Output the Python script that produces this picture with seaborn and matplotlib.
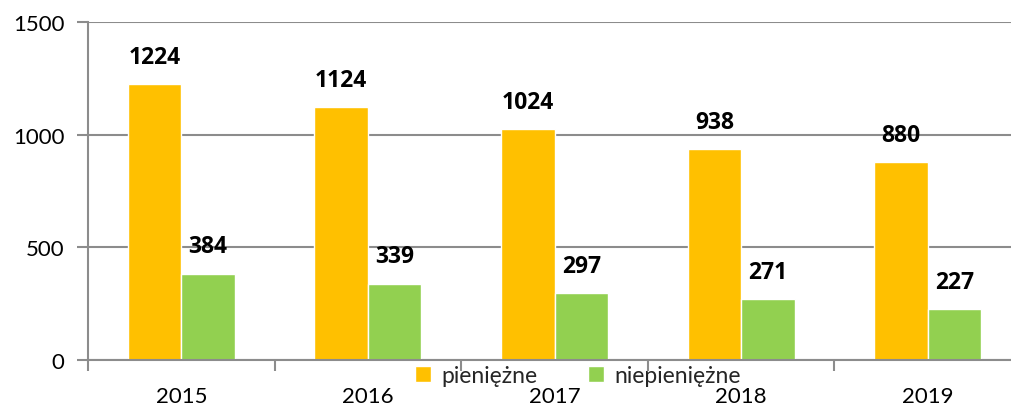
import numpy as np
import pandas as pd
import seaborn as sns
import matplotlib.pyplot as plt
from matplotlib.ticker import FixedLocator

years = ["2015", "2016", "2017", "2018", "2019"]
pieniezne = [1224, 1124, 1024, 938, 880]
niepieniezne = [384, 339, 297, 271, 227]
series = ["pieniężne", "niepieniężne"]
colors = ["#FFC000", "#92D050"]

df = pd.DataFrame({
	"rok": years * 2,
	"wartosc": pieniezne + niepieniezne,
	"typ": [series[0]] * len(years) + [series[1]] * len(years),
})

sns.set_theme(style="white")
plt.rcParams['font.family'] = ['Lato', 'DejaVu Sans']

fig = plt.figure(figsize=(10.11, 4.06), dpi=100)
ax = fig.add_axes([88 / 1011, 1 - 361 / 406, 1 - 88 / 1011, (361 - 23.3) / 406])

sns.barplot(data=df, x="rok", y="wartosc", hue="typ", palette=colors,
	width=0.574, saturation=1, ax=ax, legend=True)

ax.set_ylim(0, 1500)
ax.set_xlim(-0.5, 4.5 - 10 / 186.6)
ax.set_yticks([0, 500, 1000, 1500])
ax.yaxis.grid(True, color="#8C8C8C", linewidth=1.5)
ax.set_axisbelow(True)
ax.set_xlabel("")
ax.set_ylabel("")

for s in ["top", "right"]:
	ax.spines[s].set_visible(False)
for s in ["left", "bottom"]:
	ax.spines[s].set_color("#8C8C8C")
	ax.spines[s].set_linewidth(1.5)

ax.tick_params(axis="y", which="major", length=8, width=1.5, color="#8C8C8C",
	labelsize=16, pad=9, left=True, labelcolor="black")
ax.tick_params(axis="x", which="major", length=0, labelsize=16, pad=18.5, labelcolor="black")
ax.xaxis.set_minor_locator(FixedLocator(np.arange(-0.5, 5, 1.0)))
ax.tick_params(axis="x", which="minor", length=8, width=1.5, color="#8C8C8C", bottom=True)

for cont in ax.containers:
	ax.bar_label(cont, labels=[str(int(v)) for v in cont.datavalues],
		padding=11, fontsize=16.5, fontweight="bold", color="black",
		family=["Open Sans", "DejaVu Sans"])

leg = ax.legend(loc="center", bbox_to_anchor=(0.531, -0.046), ncol=2, frameon=False,
	fontsize=16.5, handlelength=0.7, handleheight=0.7, handletextpad=0.45,
	columnspacing=2.2, borderaxespad=0)

plt.savefig("out.png", dpi=100)
